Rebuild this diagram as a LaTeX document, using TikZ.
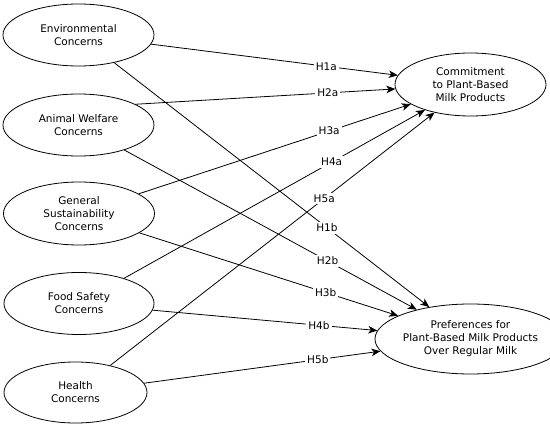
\documentclass[tikz,border=0pt]{standalone}
\usepackage{fontspec}
\setmainfont{DejaVu Sans}
\usetikzlibrary{arrows.meta,shapes.geometric}

\begin{document}
\begin{tikzpicture}[
    x=1pt, y=-1pt,
    font=\fontsize{10.5}{13}\selectfont,
    line width=0.8pt,
    construct/.style={draw, ellipse, inner sep=0pt, minimum width=151pt, minimum height=62pt,
                      align=center},
    hyp/.style={-{Stealth[length=9pt, width=7.5pt, inset=2.5pt]}},
    hlabel/.style={fill=white, inner sep=2pt},
]
\useasboundingbox (0,0) rectangle (550,428);

% =====================  ANTECEDENTS  =====================
\node[construct]                        (env)    at (78.5,35)   {Environmental\\Concerns};
\node[construct]                        (animal) at (78.5,125)  {Animal Welfare\\Concerns};
\node[construct, minimum height=63pt]   (sust)   at (79,213.5)  {General\\Sustainability\\Concerns};
\node[construct, minimum width=150pt]   (food)   at (79,303.5)  {Food Safety\\Concerns};
\node[construct, minimum width=143pt,
      minimum height=61pt]              (health) at (75.5,392.5) {Health\\Concerns};

% =====================  OUTCOMES  =====================
\node[construct, minimum height=63pt]   (commit) at (470.5,84.5) {Commitment\\to Plant-Based\\Milk Products};
\node[construct, minimum height=70pt]   (pref)   at (470.5,339)  {Preferences for\\Plant-Based Milk Products\\Over Regular Milk};

% hypotheses a: commitment
\draw[hyp] (env)        -- node[hlabel, pos=0.71] {H1a} (commit);
\draw[hyp] (animal.20)  -- node[hlabel, pos=0.74] {H2a} (commit);
\draw[hyp] (sust)       -- node[hlabel, pos=0.70] {H3a} (commit);
\draw[hyp] (food)       -- node[hlabel, pos=0.69] {H4a} (commit);
\draw[hyp] (health)     -- node[hlabel, pos=0.66] {H5a} (commit);

% hypotheses b: preferences
\draw[hyp] (env)        -- node[hlabel, pos=0.675] {H1b} (pref);
\draw[hyp] (animal)     -- node[hlabel, pos=0.695] {H2b} (pref);
\draw[hyp] (sust)       -- node[hlabel, pos=0.72]  {H3b} (pref);
\draw[hyp] (food)       -- node[hlabel, pos=0.74]  {H4b} (pref);
\draw[hyp] (health)     -- node[hlabel, pos=0.735] {H5b} (pref);

\end{tikzpicture}
\end{document}
